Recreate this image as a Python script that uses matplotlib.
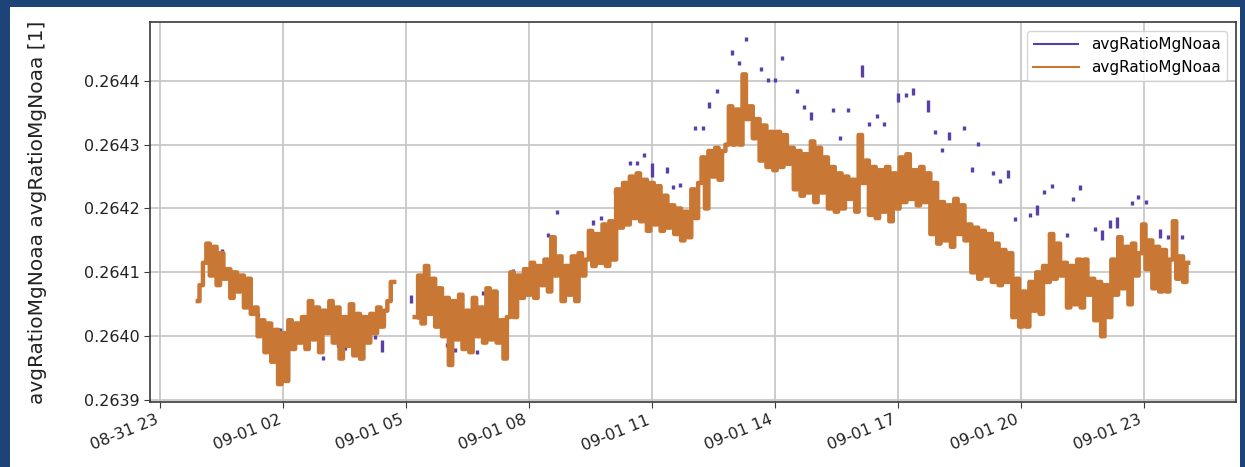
import numpy as np
import pandas as pd
import matplotlib
matplotlib.use('Agg')
import matplotlib.pyplot as plt
import matplotlib.dates as mdates
from matplotlib.patches import Rectangle
from matplotlib.ticker import MultipleLocator, FormatStrFormatter

nan = float('nan')

# avgRatioMgNoaa, 5-min samples from 08-31 23:55, deviation from 0.264 in units of 1e-6
orange_start = '2021-08-31 23:55'
orange_dev = [
    55, 80, 115, 145, 95, 140, 80, 130, 90, 105, 60, 100,
    70, 95, 45, 90, 35, 45, 0, 25, -25, 20, -40, 10,
    -75, 5, -70, 25, -20, 20, -10, 30, -20, 55, -5, 45,
    -25, 40, 5, 55, -10, 45, -35, 30, -15, 50, -30, 35,
    -35, 30, -10, 35, 5, 45, 15, 40, 55, 85,
    nan, nan, nan, nan, nan, nan,
    30, 95, 20, 110, 35, 90, 15, 75, 0, 60, -45, 55,
    -5, 65, -20, 40, -25, 60, 0, 45, -10, 75, -5, 70,
    -10, 25, -35, 30, 100, 30, 95, 60, 105, 65, 115, 60,
    110, 80, 120, 70, 155, 95, 125, 55, 110, 65, 125, 55,
    130, 95, 120, 165, 110, 160, 115, 175, 110, 180, 120, 230,
    170, 240, 175, 250, 185, 255, 180, 245, 165, 240, 175, 235,
    165, 220, 170, 205, 160, 200, 150, 195, 155, 230, 185, 240,
    280, 200, 290, 250, 295, 245, 290, 300, 360, 300, 355, 300,
    410, 340, 360, 310, 340, 275, 330, 265, 320, 260, 320, 265,
    315, 270, 295, 230, 290, 220, 285, 225, 305, 210, 295, 225,
    280, 200, 265, 195, 255, 200, 250, 215, 245, 195, 315, 240,
    275, 190, 265, 185, 260, 195, 265, 180, 255, 200, 280, 210,
    285, 215, 260, 205, 265, 210, 255, 160, 240, 145, 210, 150,
    205, 140, 215, 160, 205, 150, 175, 100, 170, 90, 165, 95,
    160, 85, 145, 80, 135, 85, 130, 30, 90, 15, 70, 15,
    85, 40, 100, 35, 110, 85, 160, 90, 145, 95, 115, 45,
    110, 50, 120, 45, 120, 65, 90, 25, 85, 0, 80, 30,
    120, 65, 155, 75, 140, 50, 145, 95, 130, 175, 105, 150,
    75, 140, 70, 135, 70, 120, 180, 90, 125, 85, 115,
]

# sparse second series: hours after 09-01 00:00, low/high deviation (1e-6)
purple_hours = [0.15, 0.51, 0.71, 1.39, 1.93, 2.83, 2.98, 3.34, 3.51, 3.71, 3.88, 4.24, 4.41,
                5.12, 5.29, 6.00, 6.20, 6.73, 6.88, 7.61, 8.46, 8.68, 9.56, 9.76, 9.90,
                10.10, 10.46, 10.63, 10.80, 11.00, 11.37, 11.51, 11.68, 12.05, 12.24, 12.39,
                12.59, 12.95, 13.12, 13.29, 13.66, 13.83, 14.00, 14.17, 14.54, 14.71, 14.88,
                15.41, 15.59, 15.78, 16.12, 16.29, 16.49, 16.66, 17.00, 17.20, 17.37, 17.73,
                17.90, 18.07, 18.24, 18.61, 18.80, 18.95, 19.32, 19.49, 19.68, 19.85, 20.22,
                20.39, 20.56, 20.76, 21.12, 21.27, 21.44, 21.80, 21.98, 22.17, 22.34, 22.71,
                22.85, 23.05, 23.39, 23.59, 23.76, 23.93]
purple_low = [137, 130, 101, 30, 7, 0, -37, -17, -22, -29, -37, -4, -25,
              52, 27, -17, -25, -28, 65, 99, 156, 192, 174, 182, 167,
              223, 268, 268, 281, 249, 256, 231, 234, 323, 323, 358,
              381, 441, 425, 463, 416, 398, 398, 433, 381, 356, 339,
              351, 308, 351, 406, 329, 342, 329, 367, 375, 378, 351,
              317, 289, 307, 323, 257, 298, 253, 240, 248, 181, 187,
              190, 223, 232, 156, 212, 229, 165, 151, 170, 170, 206,
              215, 207, 154, 152, 174, 152]
purple_high = [143, 136, 107, 36, 13, 6, -31, -11, -16, -23, -31, 2, -6,
               65, 33, -11, -19, -22, 71, 105, 162, 198, 182, 188, 173,
               229, 274, 274, 287, 271, 265, 237, 240, 329, 329, 367,
               387, 448, 431, 469, 422, 404, 404, 439, 387, 362, 351,
               357, 314, 357, 425, 335, 348, 335, 381, 381, 389, 370,
               323, 295, 320, 329, 265, 304, 259, 246, 260, 187, 193,
               206, 229, 238, 162, 218, 237, 171, 166, 182, 187, 212,
               221, 213, 168, 158, 180, 158]

label = 'avgRatioMgNoaa'
ylabel = 'avgRatioMgNoaa avgRatioMgNoaa [1]'

# build series
orange_t = mdates.date2num(pd.date_range(orange_start, periods=len(orange_dev), freq='5min'))
orange_y = 0.264 + np.array(orange_dev, dtype=float) * 1e-6

base = pd.Timestamp('2021-09-01 00:00')
pt = mdates.date2num(base + pd.to_timedelta(purple_hours, unit='h'))
px = np.column_stack([pt, pt, np.full(len(pt), nan)]).ravel()
py = np.column_stack([0.264 + np.array(purple_low) * 1e-6,
                      0.264 + np.array(purple_high) * 1e-6,
                      np.full(len(pt), nan)]).ravel()

fig = plt.figure(figsize=(12.45, 4.67), dpi=100)
fig.patch.set_facecolor('#1c4478')
fig.add_artist(Rectangle((10 / 1245, 0), 1230 / 1245, 460 / 467, transform=fig.transFigure,
                         facecolor='white', edgecolor='none', zorder=0))

ax = fig.add_axes([150 / 1245, 1 - 402 / 467, 1086 / 1245, 380 / 467])
ax.plot(px, py, color='#5840a8', lw=2.4, solid_capstyle='butt', label=label)
ax.plot(orange_t, orange_y, color='#c97734', lw=3.2, drawstyle='steps-mid',
        snap=False, label=label)

x0 = mdates.date2num(pd.Timestamp('2021-08-31 22:45'))
x1 = mdates.date2num(pd.Timestamp('2021-09-02 01:15'))
ax.set_xlim(x0, x1)
ax.set_ylim(0.263897, 0.264492)

ax.xaxis.set_major_locator(mdates.HourLocator(byhour=[2, 5, 8, 11, 14, 17, 20, 23]))
ax.xaxis.set_major_formatter(mdates.DateFormatter('%m-%d %H'))
ax.yaxis.set_major_locator(MultipleLocator(0.0001))
ax.yaxis.set_major_formatter(FormatStrFormatter('%.4f'))

ax.grid(True, color='#c4c4c4', lw=1.2)
ax.set_axisbelow(True)
for s in ax.spines.values():
    s.set_color('#3a3a3a')
    s.set_linewidth(1.2)
ax.tick_params(labelsize=11.5, colors='#3a3a3a', labelcolor='#222222', length=4)
for t in ax.get_xticklabels():
    t.set_rotation(22)
    t.set_ha('right')

ax.set_ylabel(ylabel, fontsize=14.5, color='#222222')
ax.yaxis.set_label_coords(-0.095, 0.5)

leg = ax.legend(loc='upper right', fontsize=11, handlelength=3.0, borderaxespad=0.6)
for h in leg.get_lines():
    h.set_linewidth(1.5)

fig.savefig('out.png', dpi=100, facecolor=fig.get_facecolor())
